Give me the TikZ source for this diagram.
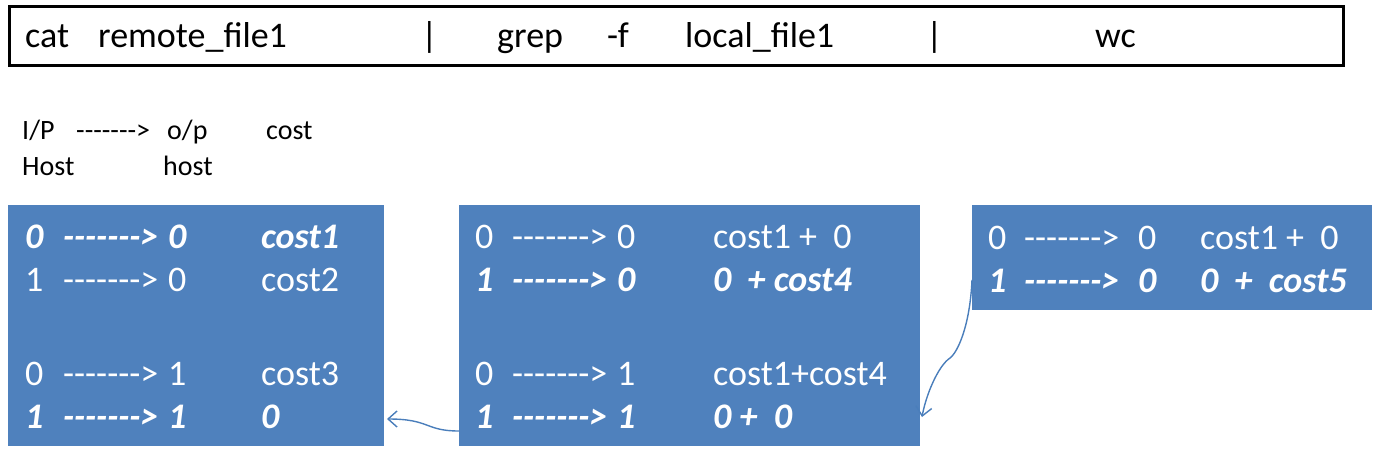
\documentclass[tikz,border=0pt]{standalone}
\usepackage{fontspec}
\setmainfont{Carlito}
\usetikzlibrary{calc,arrows.meta}
\definecolor{boxblue}{HTML}{4F81BD}
\definecolor{linkblue}{HTML}{4A7EBB}
\newcommand{\hyarrow}{-\kern0pt-\kern0pt-\kern0pt-\kern0pt-\kern0pt-\kern0pt-\kern0pt>}
\tikzset{
  bluebox/.style={fill=boxblue, draw=none, inner sep=0pt, outer sep=0pt, anchor=north west},
  cmdbox/.style={draw=black, line width=3pt, fill=white, inner sep=0pt, outer sep=0pt, anchor=north west},
  big/.style={anchor=base west, inner sep=0pt, font=\fontsize{36}{40}\selectfont},
  wt/.style={big, text=white},
  wbi/.style={big, text=white, font=\fontsize{36}{40}\selectfont\bfseries\itshape},
  hdr/.style={anchor=base west, inner sep=0pt, font=\fontsize{28}{32}\selectfont},
  link/.style={draw=linkblue, line width=1.4pt, -{Straight Barb[length=9pt,width=16pt,line width=1.4pt]}}
}
\begin{document}
\begin{tikzpicture}[x=1pt,y=-1pt]
\useasboundingbox (0,0) rectangle (1379,448);
% command box
\node[cmdbox, minimum width=1334pt, minimum height=59pt] (cmd) at (9.5,6.5) {};
\node[big] (t1) at (25,47) {cat};
\node[big] (t2) at (98,47) {remote\_file1};
\node[big] (t3) at (421,47) {|};
\node[big] (t4) at (497,47) {grep};
\node[big] (t5) at (607,47) {-f};
\node[big] (t6) at (685,47) {local\_file1};
\node[big] (t7) at (926,47) {|};
\node[big] (t8) at (1095,47) {wc};
% header
\node[hdr] (h1) at (22,139) {I/P};
\node[hdr] (h2) at (76,139) {\hyarrow};
\node[hdr] (h3) at (167,139) {o/p};
\node[hdr] (h4) at (266,139) {cost};
\node[hdr] (h5) at (22,175) {Host};
\node[hdr] (h6) at (163,175) {host};
% boxes
\node[bluebox, minimum width=376pt, minimum height=241pt] (L) at (8,205) {};
\node[bluebox, minimum width=461pt, minimum height=241pt] (M) at (459,205) {};
\node[bluebox, minimum width=400pt, minimum height=105pt] (R) at (972,205) {};
% left box rows
\node[wbi] (l1a) at (25,248) {0};
\node[wbi] (l1b) at (63,248) {\hyarrow};
\node[wbi] (l1c) at (168,248) {0};
\node[wbi] (l1d) at (261,248) {cost1};
\node[wt] (l2a) at (25,291) {1};
\node[wt] (l2b) at (63,291) {\hyarrow};
\node[wt] (l2c) at (168,291) {0};
\node[wt] (l2d) at (261,291) {cost2};
\node[wt] (l3a) at (25,385) {0};
\node[wt] (l3b) at (63,385) {\hyarrow};
\node[wt] (l3c) at (168,385) {1};
\node[wt] (l3d) at (261,385) {cost3};
\node[wbi] (l4a) at (25,428) {1};
\node[wbi] (l4b) at (63,428) {\hyarrow};
\node[wbi] (l4c) at (168,428) {1};
\node[wbi] (l4d) at (261,428) {0};
% middle box rows
\node[wt] (m1a) at (475,248) {0};
\node[wt] (m1b) at (512,248) {\hyarrow};
\node[wt] (m1c) at (617,248) {0};
\node[wt] (m1d) at (713,248) {cost1 +\ \ 0};
\node[wbi] (m2a) at (475,291) {1};
\node[wbi] (m2b) at (512,291) {\hyarrow};
\node[wbi] (m2c) at (617,291) {0};
\node[wbi] (m2d) at (713,291) {0\ \ + cost4};
\node[wt] (m3a) at (475,385) {0};
\node[wt] (m3b) at (512,385) {\hyarrow};
\node[wt] (m3c) at (617,385) {1};
\node[wt] (m3d) at (713,385) {cost1+cost4};
\node[wbi] (m4a) at (475,428) {1};
\node[wbi] (m4b) at (512,428) {\hyarrow};
\node[wbi] (m4c) at (617,428) {1};
\node[wbi] (m4d) at (713,428) {0\ +\ \ 0};
% right box rows
\node[wt] (r1a) at (988,249) {0};
\node[wt] (r1b) at (1024,249) {\hyarrow};
\node[wt] (r1c) at (1138,249) {0};
\node[wt] (r1d) at (1200,249) {cost1 +\ \ 0};
\node[wbi] (r2a) at (988,292) {1};
\node[wbi] (r2b) at (1024,292) {\hyarrow};
\node[wbi] (r2c) at (1138,292) {0};
\node[wbi] (r2d) at (1200,292) {0\ \ +\ \ cost5};
% connectors
\coordinate (c1s) at ($(M.south west)+(0,-15)$);
\coordinate (c1e) at ($(L.south east)+(3,-27)$);
\coordinate (c2s) at ($(R.south west)+(0,-30)$);
\coordinate (c2m) at ($(R.south west)+(-22,48)$);
\coordinate (c2e) at ($(M.south east)+(2,-29)$);
\draw[link] (c1s) .. controls +(-34,0) and +(43,0) .. (c1e);
\draw[link] (c2s) .. controls +(-2,45) and +(8,-6) .. (c2m) .. controls +(-12,8) and +(4,-22) .. (c2e);
\end{tikzpicture}
\end{document}
